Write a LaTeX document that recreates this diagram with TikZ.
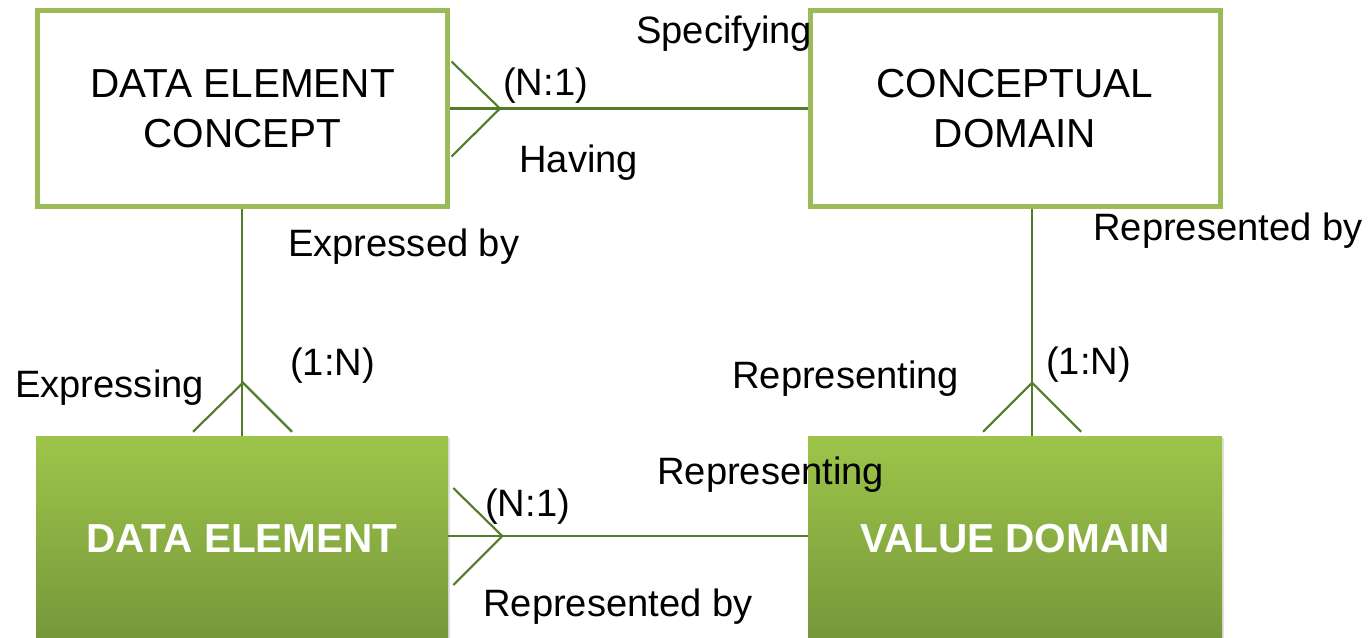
\documentclass[tikz,border=0pt]{standalone}
\usepackage{fontspec}
\setmainfont{Liberation Sans}
\usetikzlibrary{calc}
\definecolor{boxline}{HTML}{9BBB59}
\definecolor{conn}{HTML}{527B2B}
\definecolor{gtop}{HTML}{9DC54A}
\definecolor{gbot}{HTML}{76973A}
\tikzset{
  topbox/.style={draw=boxline, line width=3.75pt, fill=white, minimum width=307.5pt, minimum height=147pt, align=center, inner sep=0pt,
    font=\fontsize{30.4pt}{37.5pt}\selectfont},
  botbox/.style={top color=gtop, bottom color=gbot, draw=none, minimum width=309pt, minimum height=153.75pt, inner sep=0pt,
    text=white, font=\fontsize{30.4pt}{34pt}\selectfont\bfseries},
  link/.style={draw=conn, line width=1.6pt},
  lbl/.style={anchor=base west, inner sep=0pt, font=\fontsize{28.6pt}{34pt}\selectfont}
}
\begin{document}
\begin{tikzpicture}[x=0.75pt,y=-0.75pt]
\useasboundingbox (0,0) rectangle (1370,637);
\clip (0,0) rectangle (1370,637);
% boxes
\node[topbox] (dec) at (242.5,108.5) {DATA ELEMENT\\CONCEPT};
\node[topbox] (cd) at (1015,108.5) {CONCEPTUAL\\DOMAIN};
\fill[black,opacity=0.12] (38,438) rectangle (450,645);
\fill[black,opacity=0.12] (810,438) rectangle (1224,645);
\node[botbox] (de) at (242,538.5) {DATA ELEMENT};
\node[botbox, minimum width=310.5pt] (vd) at (1015,538.5) {VALUE DOMAIN};
\coordinate (rx) at (1032,0);
\coordinate (hy) at (0,536);
% connectors
\draw[link] (dec.east) -- (cd.west);
\draw[link] ($(dec.east)+(1.5,-47)$) -- ($(dec.east)+(50,0)$) -- ($(dec.east)+(1.5,48)$);
\draw[link] (dec.south -| de.north) -- (de.north);
\draw[link] ($(de.north)+(-49,-4)$) -- ($(de.north)+(1,-53)$) -- ($(de.north)+(50,-4)$);
\draw[link] (cd.south -| rx) -- (vd.north -| rx);
\draw[link] ($(vd.north -| rx)+(-49,-4)$) -- ($(vd.north -| rx)+(0,-53)$) -- ($(vd.north -| rx)+(49,-4)$);
\draw[link] (de.east |- hy) -- (vd.west |- hy);
\draw[link] ($(de.east |- hy)+(5,-48)$) -- ($(de.east |- hy)+(54,0)$) -- ($(de.east |- hy)+(5,49)$);
% labels
\node[lbl] (l1) at (636,43) {Specifying};
\node[lbl] (l2) at (503,95) {(N:1)};
\node[lbl] (l3) at (519,172) {Having};
\node[lbl] (l4) at (288,256) {Expressed by};
\node[lbl] (l5) at (1093,240) {Represented by};
\node[lbl] (l6) at (290,375) {(1:N)};
\node[lbl] (l7) at (15,397) {Expressing};
\node[lbl] (l8) at (732,388) {Representing};
\node[lbl] (l9) at (1046,374) {(1:N)};
\node[lbl] (l10) at (657,484) {Representing};
\node[lbl] (l11) at (485,516) {(N:1)};
\node[lbl] (l12) at (483,616) {Represented by};
\end{tikzpicture}
\end{document}
